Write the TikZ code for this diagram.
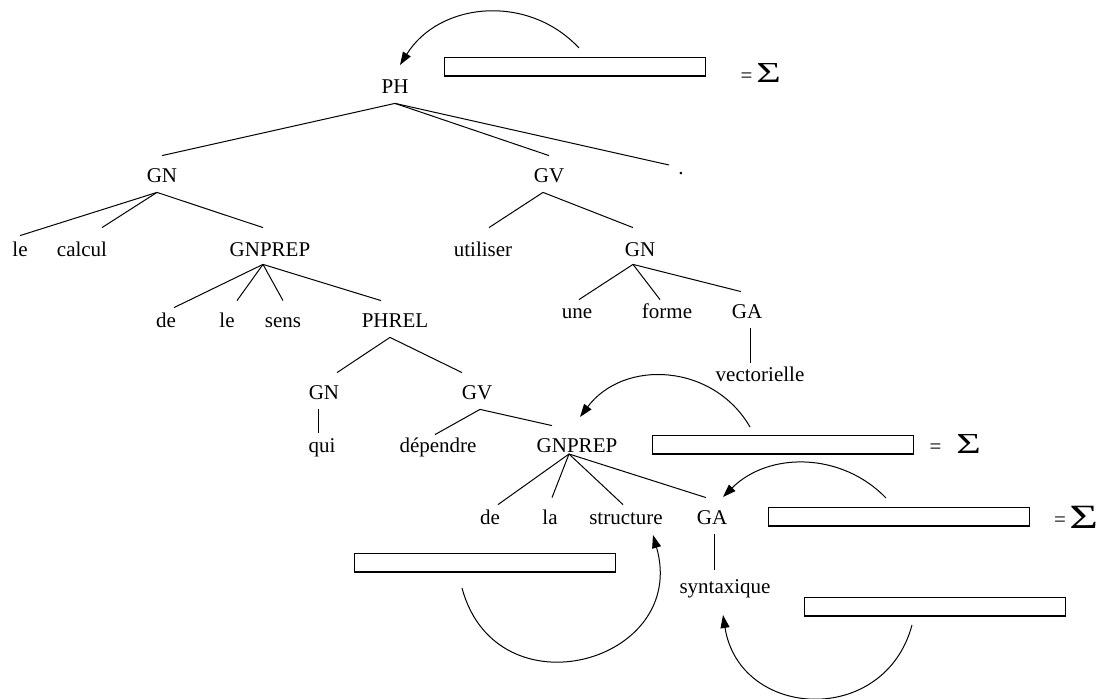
\documentclass[tikz,border=0pt]{standalone}
\usepackage{fontspec}
\setmainfont{Liberation Serif}
\usepackage{graphicx}
\usetikzlibrary{calc,arrows.meta}
\tikzset{
  lbl/.style={font=\fontsize{10.5}{12}\selectfont, inner sep=4.5pt,
              text height=9pt, text depth=0pt, anchor=base},
  branch/.style={line width=0.5pt},
  slot/.style={draw, line width=0.6pt, minimum width=130.5pt,
               minimum height=9.25pt, inner sep=0pt, anchor=north west},
  backarc/.style={line width=0.5pt, -{Triangle[length=6.5pt,width=4.5pt]}},
  sym/.style={font=\fontsize{10.5}{12}\selectfont, inner sep=0pt, anchor=base},
}
\newcommand{\bigsig}{{\fontsize{14.5}{16}\selectfont\scalebox{1.45}[1]{Σ}}}
\newcommand{\hugesig}{{\fontsize{17}{19}\selectfont\scalebox{1.45}[1]{Σ}}}
\begin{document}
\begin{tikzpicture}[x=0.5pt,y=-0.5pt]
\useasboundingbox (0,0) rectangle (1103,699);

% ---- tree nodes (x = centre, y = baseline) ----
\node[lbl] (PH)   at (395,94)  {PH};
\node[lbl] (GNa)  at (162,183) {GN};
\node[lbl] (GVa)  at (549,183) {GV};
\node[lbl] (dot)  at (681,175) {.};

\node[lbl] (le)      at (20,257)  {le};
\node[lbl] (calcul)  at (82,257)  {calcul};
\node[lbl] (GNPa)    at (270,257) {GNPREP};
\node[lbl] (util)    at (483,257) {utiliser};
\node[lbl] (GNc)     at (640,257) {GN};

\node[lbl] (dea)     at (166,328) {de};
\node[lbl] (leb)     at (227,328) {le};
\node[lbl] (sens)    at (283,328) {sens};
\node[lbl] (PHREL)   at (395,328) {PHREL};

\node[lbl] (une)     at (577,319) {une};
\node[lbl] (forme)   at (667,319) {forme};
\node[lbl] (GAa)     at (747,319) {GA};
\node[lbl] (vect)    at (760,382) {vectorielle};

\node[lbl] (GNb)     at (324,400) {GN};
\node[lbl] (GVb)     at (477,400) {GV};

\node[lbl] (qui)     at (322,453) {qui};
\node[lbl] (dep)     at (438,453) {dépendre};
\node[lbl] (GNPb)    at (577,453) {GNPREP};

\node[lbl] (deb)     at (490,525) {de};
\node[lbl] (la)      at (550,525) {la};
\node[lbl] (struct)  at (626,525) {structure};
\node[lbl] (GAb)     at (712,525) {GA};
\node[lbl] (synt)    at (725,594) {syntaxique};

% ---- branches ----
\draw[branch] (PH.south) -- (GNa.north);
\draw[branch] (PH.south) -- (GVa.north);
\draw[branch] (PH.south) -- ($(dot.base)+(-12,-10)$);

\draw[branch] ($(GNa.south)+(-5,0)$) -- ($(le.north)+(0,6)$);
\draw[branch] ($(GNa.south)+(-5,0)$) -- ($(calcul.north)+(20,-2)$);
\draw[branch] ($(GNa.south)+(-5,0)$) -- ($(GNPa.north)+(-7,-2)$);

\draw[branch] ($(GNPa.south)+(-7,-2)$) -- ($(dea.north)+(8,7)$);
\draw[branch] ($(GNPa.south)+(-7,-2)$) -- ($(leb.north)+(10,0)$);
\draw[branch] ($(GNPa.south)+(-7,-2)$) -- (sens.north);
\draw[branch] ($(GNPa.south)+(-7,-2)$) -- ($(PHREL.north)+(-14,0)$);

\draw[branch] ($(PHREL.south)+(-5,0)$) -- ($(GNb.north)+(13,0)$);
\draw[branch] ($(PHREL.south)+(-5,0)$) -- ($(GVb.north)+(-15,0)$);

\draw[branch] ($(GNb.south)+(-6,0)$) -- ($(GNb.south |- qui.north)+(-6,7)$);

\draw[branch] ($(GVb.south)+(3,0)$) -- ($(dep.north)+(-3,9)$);
\draw[branch] ($(GVb.south)+(3,0)$) -- ($(GNPb.north)+(-25,0)$);

\draw[branch] ($(GNPb.base)+(-8,1)$) -- ($(deb.north)+(8,7)$);
\draw[branch] ($(GNPb.base)+(-8,1)$) -- ($(la.north)+(2,0)$);
\draw[branch] ($(GNPb.base)+(-8,1)$) -- ($(struct.north)+(-3,7)$);
\draw[branch] ($(GNPb.base)+(-8,1)$) -- ($(GAb.north)+(-6,0)$);

\draw[branch] ($(GAb.south)+(2,0)$) -- ($(GAb.south |- synt.north)+(2,3)$);

\draw[branch] ($(GVa.south)+(-6,0)$) -- ($(util.north)+(6,-2)$);
\draw[branch] ($(GVa.south)+(-6,0)$) -- ($(GNc.north)+(-7,-2)$);

\draw[branch] ($(GNc.south)+(-7,-2)$) -- ($(une.north)+(2,8)$);
\draw[branch] ($(GNc.south)+(-7,-2)$) -- ($(forme.north)+(-7,8)$);
\draw[branch] ($(GNc.south)+(-7,-2)$) -- ($(GAa.north)+(-6,0)$);

\draw[branch] ($(GAa.south)+(3,0)$) -- ($(GAa.south |- vect.north)+(3,8)$);

% ---- empty slots and their sums ----
\node[slot] (s1) at (444,57)  {};
\node[slot] (s2) at (652,435) {};
\node[slot] (s3) at (768,507) {};
\node[slot] (s4) at (354,553) {};
\node[slot] (s5) at (804,597) {};

\node[sym] (eq1)  at (746.5,83) {=};
\node[sym,anchor=base west] (sg1) at (756,83) {\bigsig};
\node[sym] (eq2)  at (935.5,454) {=};
\node[sym,anchor=base west] (sg2) at (956,454) {\bigsig};
\node[sym] (eq3)  at (1060,527) {=};
\node[sym,anchor=base west] (sg3) at (1069,529) {\hugesig};

% ---- curved arrows from the slots back to the tree ----
\coordinate (a1) at (579,48);   \coordinate (t1) at (400,65);
\coordinate (a2) at (750,427);  \coordinate (t2) at (580,417);
\coordinate (a3) at (886,498);  \coordinate (t3) at (723,497);
\coordinate (a4) at (462,588);  \coordinate (t4) at (653,535);
\coordinate (a5) at (912,625);  \coordinate (t5) at (723,615);

\draw[backarc] (a1) to[out=133,in=58,distance=37.3pt] (t1);
\draw[backarc] (a2) to[out=120,in=53,distance=36.6pt] (t2);
\draw[backarc] (a3) to[out=134,in=45,distance=32.1pt] (t3);
\draw[backarc] (a4) to[out=285,in=286,distance=66.3pt] (t4);
\draw[backarc] (a5) to[out=255,in=279,distance=53pt] (t5);
\end{tikzpicture}
\end{document}
